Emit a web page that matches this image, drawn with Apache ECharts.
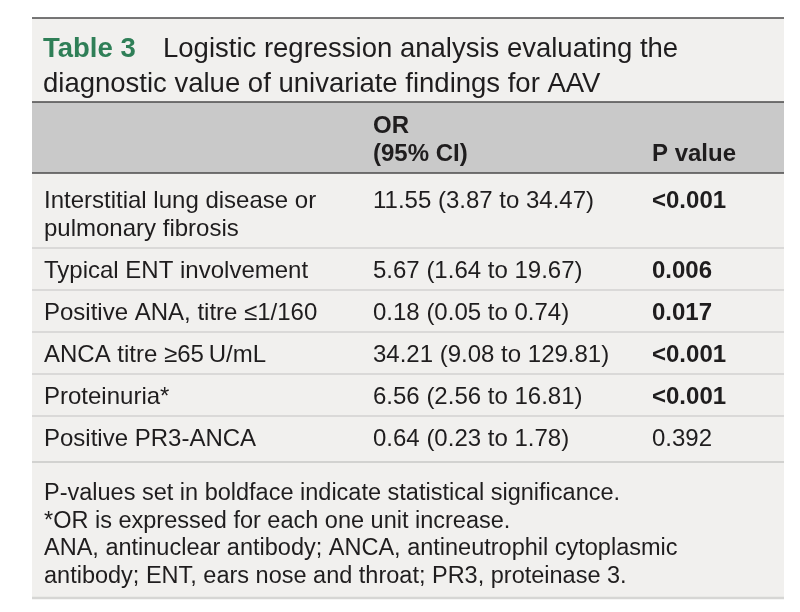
<!DOCTYPE html>
<html>
<head>
<meta charset="utf-8">
<script src="https://cdn.jsdelivr.net/npm/echarts@6/dist/echarts.min.js"></script>
<style>
  html, body { margin: 0; padding: 0; background: #ffffff; }
  #chart { width: 800px; height: 612px; }
</style>
</head>
<body>
<div id="chart"></div>
<script>
const TABLE_NUMBER = "Table 3";
const TITLE_LINES = [
  "Logistic regression analysis evaluating the",
  "diagnostic value of univariate findings for AAV",
];
const HEADER_OR = ["OR", "(95% CI)"];
const HEADER_P = "P value";

const findings = [
  "Interstitial lung disease or\npulmonary fibrosis",
  "Typical ENT involvement",
  "Positive ANA, titre \u22641/160",
  "ANCA titre \u226565\u2009U/mL",
  "Proteinuria*",
  "Positive PR3-ANCA",
];
const oddsRatios = [
  "11.55 (3.87 to 34.47)",
  "5.67 (1.64 to 19.67)",
  "0.18 (0.05 to 0.74)",
  "34.21 (9.08 to 129.81)",
  "6.56 (2.56 to 16.81)",
  "0.64 (0.23 to 1.78)",
];
const pValues = ["<0.001", "0.006", "0.017", "<0.001", "<0.001", "0.392"];
const significant = [true, true, true, true, true, false];

const footnotes = [
  "P-values set in boldface indicate statistical significance.",
  "*OR is expressed for each one unit increase.",
  "ANA, antinuclear antibody; ANCA, antineutrophil cytoplasmic",
  "antibody; ENT, ears nose and throat; PR3, proteinase 3.",
];

const FONT = "'Liberation Sans', Arial, sans-serif";
const TEXT_COLOR = "#1f1d1e";
const GREEN = "#2f7f57";
const BODY_SIZE = 24;
const FOOT_SIZE = 23.5;
const TITLE_SIZE = 27.5;

const layout = {
  left: 32,
  right: 784,
  top: 18,
  headerTop: 102,
  headerBottom: 173,
  bottom: 598,
  colX: [44, 373, 652],
  lineHeight: 28,
  rowHeight: 42,
  firstRowExtra: 5,
  lastRowExtra: 4,
  textOffset: 23,
  footLine: 27.6,
};

// row tops are derived from how many lines each finding needs
const rowTops = [];
(function computeRows() {
  let y = layout.headerBottom;
  findings.forEach((label, i) => {
    rowTops.push(y);
    const lines = label.split("\n").length;
    let h = layout.rowHeight + (lines - 1) * layout.lineHeight;
    if (i === 0) h += layout.firstRowExtra;
    if (i === findings.length - 1) h += layout.lastRowExtra;
    y += h;
  });
  rowTops.push(y);
})();
const footTop = rowTops[rowTops.length - 1];

function textStyle(text, size, bold, color) {
  return {
    text,
    fill: color || TEXT_COLOR,
    font: `${bold ? "bold " : ""}${size}px ${FONT}`,
    lineHeight: layout.lineHeight,
    verticalAlign: "middle",
    align: "left",
  };
}

function renderRow(params, api) {
  const i = api.value(0);
  const top = rowTops[i];
  const bottom = rowTops[i + 1];
  const pad = i === 0 ? layout.firstRowExtra : 0;
  const labelLines = findings[i].split("\n");
  const children = [];

  labelLines.forEach((line, k) => {
    const p = api.coord([layout.colX[0], top + pad + layout.textOffset + k * layout.lineHeight]);
    children.push({ type: "text", x: p[0], y: p[1], style: textStyle(line, BODY_SIZE, false) });
  });

  const p1 = api.coord([layout.colX[1], top + pad + layout.textOffset]);
  children.push({ type: "text", x: p1[0], y: p1[1], style: textStyle(oddsRatios[i], BODY_SIZE, false) });

  const p2 = api.coord([layout.colX[2], top + pad + layout.textOffset]);
  children.push({ type: "text", x: p2[0], y: p2[1], style: textStyle(pValues[i], BODY_SIZE, significant[i]) });

  if (i < findings.length - 1) {
    const a = api.coord([layout.left, bottom]);
    const b = api.coord([layout.right, bottom]);
    children.push({
      type: "line",
      shape: { x1: a[0], y1: a[1], x2: b[0], y2: b[1] },
      style: { stroke: "#d2d2d0", lineWidth: 1.5 },
    });
  }
  return { type: "group", children };
}

function renderFootnotes(params, api) {
  const k = api.value(0);
  const p = api.coord([layout.colX[0], footTop + 31.5 + k * layout.footLine]);
  return { type: "text", x: p[0], y: p[1], style: textStyle(footnotes[k], FOOT_SIZE, false) };
}

const chart = echarts.init(document.getElementById("chart"), null, { renderer: "canvas" });

chart.setOption({
  animation: false,
  backgroundColor: "#ffffff",
  grid: { left: 0, right: 0, top: 0, bottom: 0 },
  xAxis: { type: "value", min: 0, max: 800, show: false },
  yAxis: { type: "value", min: 0, max: 612, inverse: true, show: false },
  graphic: [
    {
      type: "rect", z: -10,
      shape: { x: layout.left, y: layout.top, width: layout.right - layout.left, height: layout.bottom - layout.top },
      style: { fill: "#f1f0ee" },
    },
    {
      type: "rect", z: -9,
      shape: { x: layout.left, y: layout.headerTop, width: layout.right - layout.left, height: layout.headerBottom - layout.headerTop },
      style: { fill: "#c9c9c9" },
    },
    {
      type: "line", z: -8,
      shape: { x1: layout.left, y1: layout.top, x2: layout.right, y2: layout.top },
      style: { stroke: "#4a4a4a", lineWidth: 1.5 },
    },
    {
      type: "line", z: -8,
      shape: { x1: layout.left, y1: layout.headerTop, x2: layout.right, y2: layout.headerTop },
      style: { stroke: "#4a4a4a", lineWidth: 1.5 },
    },
    {
      type: "line", z: -8,
      shape: { x1: layout.left, y1: layout.headerBottom, x2: layout.right, y2: layout.headerBottom },
      style: { stroke: "#4a4a4a", lineWidth: 1.5 },
    },
    {
      type: "line", z: -8,
      shape: { x1: layout.left, y1: footTop, x2: layout.right, y2: footTop },
      style: { stroke: "#d2d2d0", lineWidth: 2 },
    },
    {
      type: "line", z: -8,
      shape: { x1: layout.left, y1: layout.bottom, x2: layout.right, y2: layout.bottom },
      style: { stroke: "#d6d6d4", lineWidth: 2.5 },
    },
    {
      type: "text", x: 43, y: 49,
      style: {
        text: TABLE_NUMBER,
        font: `bold ${TITLE_SIZE}px ${FONT}`,
        fill: GREEN,
        verticalAlign: "middle",
      },
    },
    {
      type: "text", x: 163, y: 49,
      style: textStyle(TITLE_LINES[0], TITLE_SIZE, false),
    },
    {
      type: "text", x: 43, y: 84,
      style: textStyle(TITLE_LINES[1], TITLE_SIZE, false),
    },
    {
      type: "text", x: layout.colX[1], y: 126.5,
      style: textStyle(HEADER_OR[0], BODY_SIZE, true),
    },
    {
      type: "text", x: layout.colX[1], y: 154.5,
      style: textStyle(HEADER_OR[1], BODY_SIZE, true),
    },
    {
      type: "text", x: layout.colX[2], y: 154.5,
      style: textStyle(HEADER_P, BODY_SIZE, true),
    },
  ],
  series: [
    {
      type: "custom",
      name: "rows",
      coordinateSystem: "cartesian2d",
      renderItem: renderRow,
      data: findings.map((_, i) => [i]),
      encode: { x: -1, y: -1 },
      silent: true,
    },
    {
      type: "custom",
      name: "footnotes",
      coordinateSystem: "cartesian2d",
      renderItem: renderFootnotes,
      data: footnotes.map((_, i) => [i]),
      encode: { x: -1, y: -1 },
      silent: true,
    },
  ],
});
</script>
</body>
</html>
